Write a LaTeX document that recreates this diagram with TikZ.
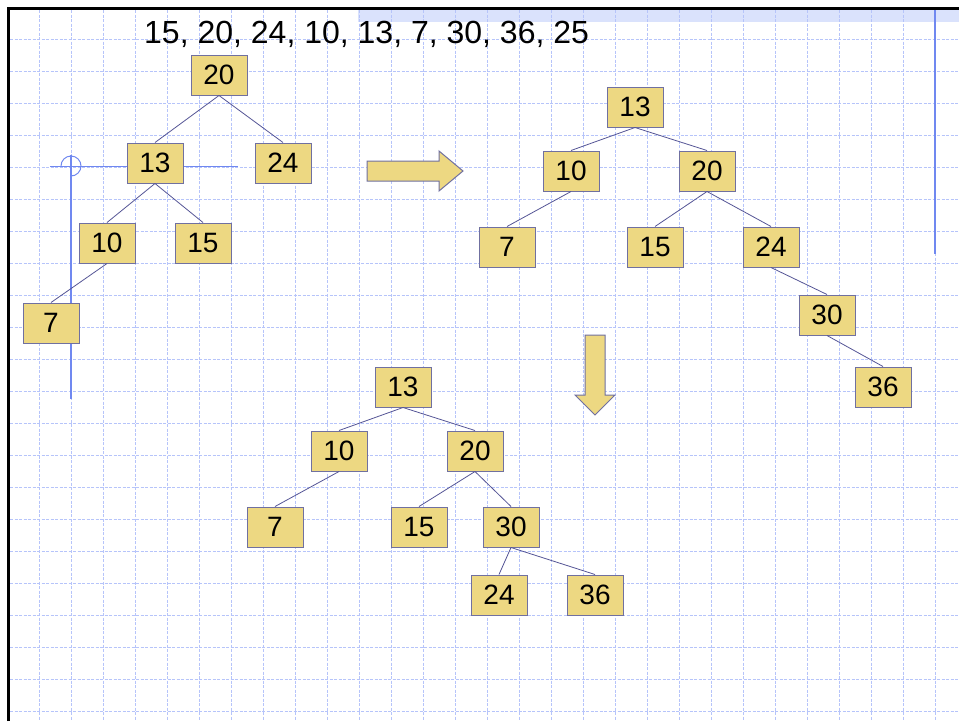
\documentclass[tikz,border=0pt]{standalone}
\usepackage{fontspec}
\setmainfont{Liberation Sans}
\definecolor{nodefill}{RGB}{237,216,130}
\definecolor{nodeedge}{RGB}{112,112,160}
\definecolor{edgecol}{RGB}{85,85,150}
\definecolor{gridcol}{RGB}{182,196,250}
\definecolor{bandcol}{RGB}{218,226,252}
\definecolor{guide}{RGB}{112,136,240}
\tikzset{
  keynode/.style={draw=nodeedge, fill=nodefill, line width=1pt, minimum width=56pt, minimum height=40pt, inner sep=0pt, font=\fontsize{28}{28}\selectfont},
  link/.style={draw=edgecol, line width=0.8pt},
  gridline/.style={draw=gridcol, line width=0.7pt, dash pattern=on 3pt off 1.5pt},
  guideline/.style={draw=guide, line width=1.2pt},
  bigarrow/.style={draw=nodeedge, fill=nodefill, line width=1pt, line join=miter}
}
\begin{document}
\begin{tikzpicture}[x=1pt,y=-1pt]
\useasboundingbox (0,0) rectangle (959,721);
\fill[white] (0,0) rectangle (959,721);
% header band
\fill[bandcol] (358,10) rectangle (959,22);
% grid
\foreach \gx in {39,71,...,935} \draw[gridline] (\gx,10) -- (\gx,721);
\foreach \gy in {39,71,...,711} \draw[gridline] (10,\gy) -- (959,\gy);
% border
\draw[black, line width=2.5pt] (8.5,721) -- (8.5,8.5) -- (959,8.5);
% right guide
\draw[guide, line width=2pt] (935,10) -- (935,254);
% crosshair guide
\draw[guideline, line width=1pt] (50,166) -- (238,166);
\draw[guideline, line width=1.5pt] (71,155) -- (71,399);
\draw[guideline, line width=1pt] (61,166) arc[start angle=180, end angle=450, radius=10];
% title
\node[anchor=base west, inner sep=0pt, font=\fontsize{32}{32}\selectfont] (seq) at (144,43) {15, 20, 24, 10, 13, 7, 30, 36, 25};
% tree 1
\node[keynode] (a20) at (219,75) {20};
\node[keynode] (a13) at (155,163) {13};
\node[keynode] (a24) at (283,163) {24};
\node[keynode] (a10) at (107,243) {10};
\node[keynode] (a15) at (203,243) {15};
\node[keynode] (a7) at (51,323) {7};
\draw[link] (a20.south) -- (a13.north);
\draw[link] (a20.south) -- (a24.north);
\draw[link] (a13.south) -- (a10.north);
\draw[link] (a13.south) -- (a15.north);
\draw[link] (a10.south) -- (a7.north);
% tree 2
\node[keynode] (b13) at (635,107) {13};
\node[keynode] (b10) at (571,171) {10};
\node[keynode] (b20) at (707,171) {20};
\node[keynode] (b7) at (507,247) {7};
\node[keynode] (b15) at (655,247) {15};
\node[keynode] (b24) at (771,247) {24};
\node[keynode] (b30) at (827,315) {30};
\node[keynode] (b36) at (883,387) {36};
\draw[link] (b13.south) -- (b10.north);
\draw[link] (b13.south) -- (b20.north);
\draw[link] (b10.south) -- (b7.north);
\draw[link] (b20.south) -- (b15.north);
\draw[link] (b20.south) -- (b24.north);
\draw[link] (b24.south) -- (b30.north);
\draw[link] (b30.south) -- (b36.north);
% tree 3
\node[keynode] (c13) at (403,387) {13};
\node[keynode] (c10) at (339,451) {10};
\node[keynode] (c20) at (475,451) {20};
\node[keynode] (c7) at (275,527) {7};
\node[keynode] (c15) at (419,527) {15};
\node[keynode] (c30) at (511,527) {30};
\node[keynode] (c24) at (499,595) {24};
\node[keynode] (c36) at (595,595) {36};
\draw[link] (c13.south) -- (c10.north);
\draw[link] (c13.south) -- (c20.north);
\draw[link] (c10.south) -- (c7.north);
\draw[link] (c20.south) -- (c15.north);
\draw[link] (c20.south) -- (c30.north);
\draw[link] (c30.south) -- (c24.north);
\draw[link] (c30.south) -- (c36.north);
% block arrows
\draw[bigarrow] (367,161) -- (439,161) -- (439,151) -- (463,171) -- (439,191) -- (439,181) -- (367,181) -- cycle;
\draw[bigarrow] (585,335) -- (605,335) -- (605,395) -- (615,395) -- (595,415) -- (575,395) -- (585,395) -- cycle;
\end{tikzpicture}
\end{document}
